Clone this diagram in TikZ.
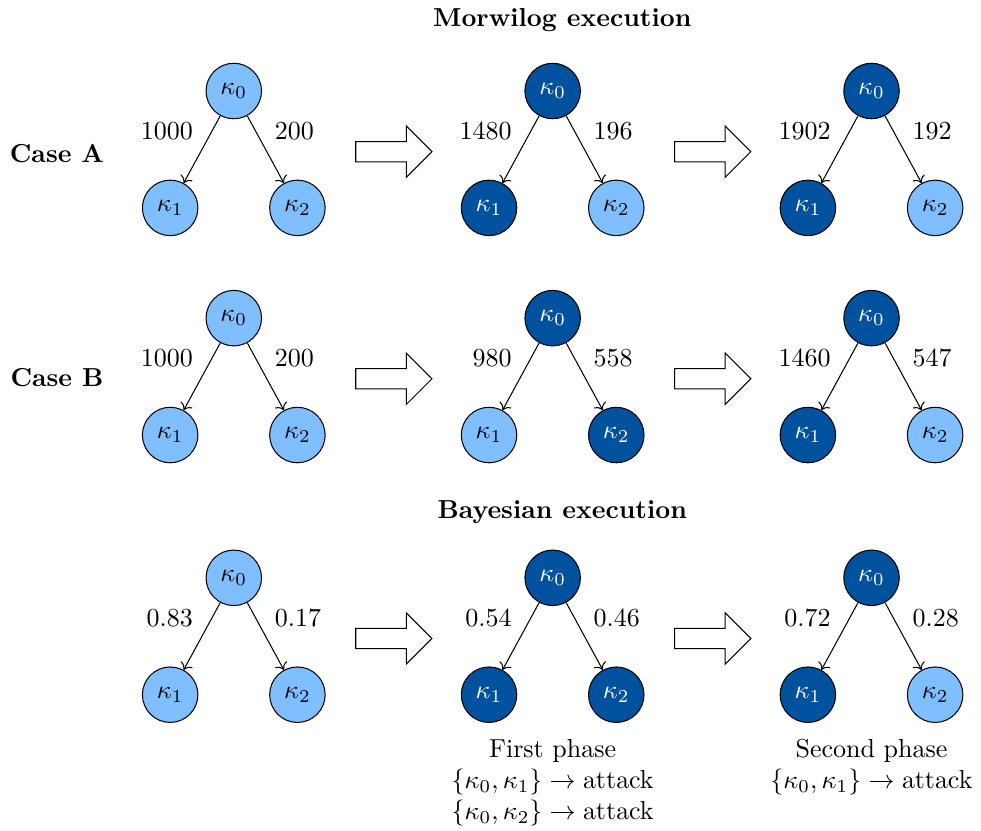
\documentclass[tikz,border=0pt]{standalone}
\usepackage{tikz}
\usetikzlibrary{calc, shapes.arrows, arrows.meta, positioning}

\definecolor{lightblue}{RGB}{128,191,255}
\definecolor{darkblue}{RGB}{0,82,158}

\begin{document}
\begin{tikzpicture}[
    on grid,
    light_node/.style={
            circle,
            draw,
            fill=lightblue,
            minimum size=0.75cm,
            inner sep=0pt
        },
    dark_node/.style={light_node, fill=darkblue, text=white},
    arrow/.style={->},
    step_arrow/.style={
            single arrow,
            draw,
            minimum height=1.03cm,
            minimum width=0.68cm,
            single arrow head extend=0.21cm,
            inner xsep=0pt,
            inner ysep=0.13cm,
            xshift=-0.06cm
        },
    title_block/.style={font=\bfseries},
    ]

    \useasboundingbox (0,0) rectangle (13.26,-11.22);

    % --- Titles ---
    \node (title_mw) [title_block] at (7.6,-0.27) {Morwilog execution};
    \node (title_bay) [title_block] at (7.6,-6.92) {Bayesian execution};
    \node (case_a) [title_block] at (0.77,-2.08) {Case A};
    \node (case_b) [title_block] at (0.77,-5.11) {Case B};

    % --- Case A ---
    \node (a1k0) [light_node] at (3.16,-1.23) {$\kappa_0$};
    \node (a1k1) [light_node, below left=1.58cm and 0.86cm of a1k0] {$\kappa_1$};
    \node (a1k2) [light_node, below right=1.58cm and 0.86cm of a1k0] {$\kappa_2$};
    \node (a2k0) [dark_node, right=4.31cm of a1k0] {$\kappa_0$};
    \node (a2k1) [dark_node, below left=1.58cm and 0.86cm of a2k0] {$\kappa_1$};
    \node (a2k2) [light_node, below right=1.58cm and 0.86cm of a2k0] {$\kappa_2$};
    \node (a3k0) [dark_node, right=4.31cm of a2k0] {$\kappa_0$};
    \node (a3k1) [dark_node, below left=1.58cm and 0.86cm of a3k0] {$\kappa_1$};
    \node (a3k2) [light_node, below right=1.58cm and 0.86cm of a3k0] {$\kappa_2$};

    % --- Case B ---
    \node (b1k0) [light_node, below=3.07cm of a1k0] {$\kappa_0$};
    \node (b1k1) [light_node, below left=1.58cm and 0.86cm of b1k0] {$\kappa_1$};
    \node (b1k2) [light_node, below right=1.58cm and 0.86cm of b1k0] {$\kappa_2$};
    \node (b2k0) [dark_node, right=4.31cm of b1k0] {$\kappa_0$};
    \node (b2k1) [light_node, below left=1.58cm and 0.86cm of b2k0] {$\kappa_1$};
    \node (b2k2) [dark_node, below right=1.58cm and 0.86cm of b2k0] {$\kappa_2$};
    \node (b3k0) [dark_node, right=4.31cm of b2k0] {$\kappa_0$};
    \node (b3k1) [dark_node, below left=1.58cm and 0.86cm of b3k0] {$\kappa_1$};
    \node (b3k2) [light_node, below right=1.58cm and 0.86cm of b3k0] {$\kappa_2$};

    % --- Bayesian ---
    \node (c1k0) [light_node, below=3.51cm of b1k0] {$\kappa_0$};
    \node (c1k1) [light_node, below left=1.58cm and 0.86cm of c1k0] {$\kappa_1$};
    \node (c1k2) [light_node, below right=1.58cm and 0.86cm of c1k0] {$\kappa_2$};
    \node (c2k0) [dark_node, right=4.31cm of c1k0] {$\kappa_0$};
    \node (c2k1) [dark_node, below left=1.58cm and 0.86cm of c2k0] {$\kappa_1$};
    \node (c2k2) [dark_node, below right=1.58cm and 0.86cm of c2k0] {$\kappa_2$};
    \node (c3k0) [dark_node, right=4.31cm of c2k0] {$\kappa_0$};
    \node (c3k1) [dark_node, below left=1.58cm and 0.86cm of c3k0] {$\kappa_1$};
    \node (c3k2) [light_node, below right=1.58cm and 0.86cm of c3k0] {$\kappa_2$};

    % --- Edges ---
    \draw[arrow] (a1k0) -- node[above left] {1000} (a1k1);
    \draw[arrow] (a1k0) -- node[above right] {200} (a1k2);
    \draw[arrow] (a2k0) -- node[above left] {1480} (a2k1);
    \draw[arrow] (a2k0) -- node[above right] {196} (a2k2);
    \draw[arrow] (a3k0) -- node[above left] {1902} (a3k1);
    \draw[arrow] (a3k0) -- node[above right] {192} (a3k2);

    \draw[arrow] (b1k0) -- node[above left] {1000} (b1k1);
    \draw[arrow] (b1k0) -- node[above right] {200} (b1k2);
    \draw[arrow] (b2k0) -- node[above left] {980} (b2k1);
    \draw[arrow] (b2k0) -- node[above right] {558} (b2k2);
    \draw[arrow] (b3k0) -- node[above left] {1460} (b3k1);
    \draw[arrow] (b3k0) -- node[above right] {547} (b3k2);

    \draw[arrow] (c1k0) -- node[above left] {0.83} (c1k1);
    \draw[arrow] (c1k0) -- node[above right] {0.17} (c1k2);
    \draw[arrow] (c2k0) -- node[above left] {0.54} (c2k1);
    \draw[arrow] (c2k0) -- node[above right] {0.46} (c2k2);
    \draw[arrow] (c3k0) -- node[above left] {0.72} (c3k1);
    \draw[arrow] (c3k0) -- node[above right] {0.28} (c3k2);

    % --- Steps ---
    \node (a_step1) [step_arrow] at ($(a1k0)!0.5!(a2k0) + (0,-0.82)$) {};
    \node (a_step2) [step_arrow] at ($(a2k0)!0.5!(a3k0) + (0,-0.82)$) {};
    \node (b_step1) [step_arrow] at ($(b1k0)!0.5!(b2k0) + (0,-0.82)$) {};
    \node (b_step2) [step_arrow] at ($(b2k0)!0.5!(b3k0) + (0,-0.82)$) {};
    \node (c_step1) [step_arrow] at ($(c1k0)!0.5!(c2k0) + (0,-0.82)$) {};
    \node (c_step2) [step_arrow] at ($(c2k0)!0.5!(c3k0) + (0,-0.82)$) {};

    % --- Phases ---
    \node (phase1) [align=center] at ($(c2k1)!0.5!(c2k2) + (0,-1.19)$)
        {First phase\\ $\{\kappa_0, \kappa_1\} \rightarrow \mathrm{attack}$\\ $\{\kappa_0, \kappa_2\} \rightarrow \mathrm{attack}$};
    \node (phase2) [align=center] at ($(c3k1)!0.5!(c3k2) + (0,-0.98)$)
        {Second phase\\ $\{\kappa_0, \kappa_1\} \rightarrow \mathrm{attack}$};

\end{tikzpicture}
\end{document}
